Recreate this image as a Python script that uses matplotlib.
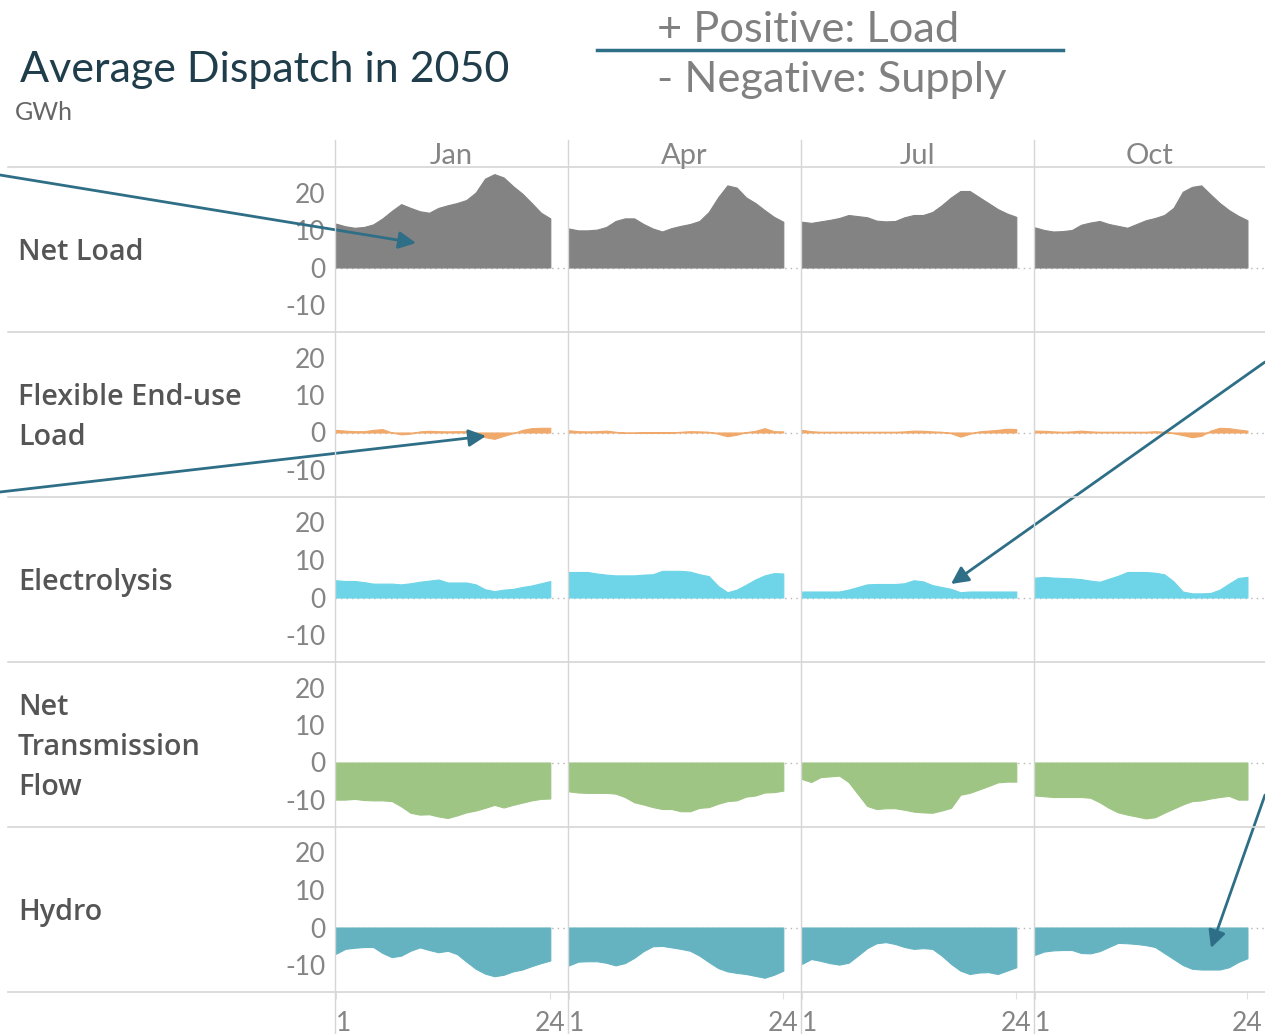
import matplotlib
matplotlib.use('Agg')
import matplotlib.pyplot as plt
from matplotlib.lines import Line2D
from matplotlib.patches import FancyArrowPatch

# ---------------- data ----------------
hours = list(range(1, 25))
months = ['Jan', 'Apr', 'Jul', 'Oct']
row_labels = ['Net Load', 'Flexible End-use\nLoad', 'Electrolysis',
              'Net\nTransmission\nFlow', 'Hydro']
y_ticks = [-10, 0, 10, 20]
x_ticks = [1, 24]
x_tick_labels = ['1', '24']

net_load_jan = [11.7, 11.0, 10.6, 10.8, 11.5, 13.1, 15.1, 16.9, 15.9, 15.0, 14.6, 15.9,
                16.6, 17.2, 18.0, 20.0, 23.7, 24.9, 24.0, 21.7, 19.7, 17.2, 14.6, 13.1]
net_load_apr = [10.4, 9.9, 9.9, 10.1, 10.8, 12.4, 13.1, 13.1, 11.6, 10.4, 9.6, 10.5,
                11.1, 11.6, 12.4, 14.8, 18.7, 21.9, 21.3, 18.7, 17.2, 15.3, 13.5, 12.2]
net_load_jul = [12.2, 11.9, 12.3, 12.7, 13.2, 14.0, 13.7, 13.4, 12.5, 12.3, 12.4, 13.4,
                14.0, 14.0, 14.8, 16.6, 18.7, 20.4, 20.4, 18.8, 17.2, 15.6, 14.4, 13.5]
net_load_oct = [10.7, 10.0, 9.6, 9.7, 10.0, 11.4, 12.0, 12.4, 11.6, 11.1, 10.6, 11.6,
                12.6, 13.2, 14.0, 15.9, 20.2, 21.5, 21.9, 19.5, 17.2, 15.3, 13.8, 12.6]

flex_jan = [0.7, 0.5, 0.35, 0.35, 0.7, 0.9, 0.0, -0.5, -0.3, 0.3, 0.45, 0.35,
            0.3, 0.35, 0.35, -0.35, -1.25, -1.7, -0.9, -0.2, 0.7, 1.15, 1.25, 1.25]
flex_apr = [0.6, 0.35, 0.3, 0.35, 0.5, 0.2, -0.1, -0.1, 0.0, 0.0, 0.0, 0.0,
            0.2, 0.35, 0.3, 0.2, -0.35, -1.0, -0.6, 0.1, 0.45, 1.15, 0.35, 0.3]
flex_jul = [0.7, 0.35, 0.2, 0.2, 0.2, 0.2, 0.2, 0.2, 0.2, 0.2, 0.2, 0.3,
            0.5, 0.45, 0.3, 0.2, -0.2, -1.1, -0.35, 0.3, 0.5, 0.7, 1.0, 0.9]
flex_oct = [0.5, 0.45, 0.3, 0.2, 0.3, 0.5, 0.3, 0.2, 0.2, 0.2, 0.2, 0.2,
            0.2, 0.35, 0.2, -0.2, -0.7, -1.25, -0.9, 0.5, 1.25, 1.15, 0.8, 0.5]

electro_jan = [4.6, 4.4, 4.4, 4.1, 3.7, 3.7, 3.7, 3.5, 3.8, 4.2, 4.5, 4.8,
               4.0, 4.0, 4.0, 3.5, 2.2, 1.7, 2.1, 2.3, 2.8, 3.2, 3.8, 4.4]
electro_apr = [6.8, 6.8, 6.8, 6.4, 6.1, 5.9, 5.9, 5.9, 6.1, 6.2, 7.1, 7.1,
               7.1, 6.9, 6.2, 5.7, 3.1, 1.4, 2.1, 3.4, 4.8, 5.9, 6.5, 6.4]
electro_jul = [1.6, 1.6, 1.6, 1.6, 1.6, 2.1, 2.8, 3.5, 3.6, 3.6, 3.6, 3.8,
               4.6, 4.3, 3.3, 2.8, 2.3, 1.4, 1.6, 1.6, 1.6, 1.6, 1.6, 1.6]
electro_oct = [5.3, 5.5, 5.3, 5.2, 5.1, 4.9, 4.5, 4.2, 5.0, 5.8, 6.8, 6.8,
               6.8, 6.6, 6.2, 4.3, 1.6, 1.1, 1.1, 1.2, 2.1, 3.7, 5.2, 5.5]

trans_jan = [-9.9, -9.9, -9.7, -10.0, -10.1, -10.1, -10.3, -11.7, -13.4, -13.9, -13.8, -14.4,
             -14.8, -14.1, -13.3, -12.8, -12.1, -11.3, -12.0, -11.3, -10.7, -10.1, -9.7, -9.6]
trans_apr = [-7.7, -8.0, -8.1, -8.1, -8.1, -8.3, -9.2, -10.6, -11.2, -11.9, -12.4, -12.4,
             -13.0, -13.0, -12.1, -11.9, -11.0, -10.3, -10.1, -9.1, -8.8, -8.0, -7.9, -7.5]
trans_jul = [-4.4, -5.2, -3.9, -3.7, -3.5, -5.2, -8.4, -11.6, -12.4, -12.2, -12.2, -12.6,
             -13.1, -13.3, -13.4, -12.8, -12.1, -8.6, -8.1, -7.2, -6.3, -5.3, -5.1, -5.1]
trans_oct = [-8.8, -9.0, -9.2, -9.2, -9.2, -9.2, -9.4, -10.6, -12.1, -13.3, -13.9, -14.4,
             -14.9, -14.6, -13.4, -12.3, -11.2, -10.3, -10.1, -9.6, -9.2, -8.9, -9.9, -9.9]

hydro_jan = [-7.0, -5.7, -5.4, -5.2, -5.2, -6.8, -7.9, -7.5, -6.2, -5.3, -6.0, -6.6,
             -6.2, -7.1, -9.1, -11.0, -12.3, -13.0, -12.6, -11.7, -11.2, -10.3, -9.5, -8.8]
hydro_apr = [-10.1, -9.1, -9.0, -9.0, -9.4, -10.1, -9.5, -8.1, -6.3, -5.0, -4.9, -5.3,
             -5.7, -6.2, -7.5, -9.2, -10.8, -11.7, -12.1, -12.4, -12.9, -13.4, -12.6, -11.5]
hydro_jul = [-9.7, -8.4, -8.9, -9.5, -9.9, -9.4, -7.5, -5.5, -4.2, -3.9, -4.4, -5.2,
             -5.7, -5.5, -5.7, -7.5, -9.7, -11.5, -12.4, -12.0, -11.9, -12.4, -11.5, -10.6]
hydro_oct = [-7.3, -6.4, -6.1, -6.0, -6.0, -6.8, -6.9, -6.3, -5.2, -4.1, -4.2, -4.4,
             -4.7, -5.2, -6.8, -8.4, -10.0, -11.0, -11.2, -11.2, -11.2, -10.6, -9.2, -8.2]

series = [
    [net_load_jan, net_load_apr, net_load_jul, net_load_oct],
    [flex_jan, flex_apr, flex_jul, flex_oct],
    [electro_jan, electro_apr, electro_jul, electro_oct],
    [trans_jan, trans_apr, trans_jul, trans_oct],
    [hydro_jan, hydro_apr, hydro_jul, hydro_oct],
]
row_colors = ['#838384', '#F0A96B', '#6DD5E7', '#9FC584', '#65B3C1']

# ---------------- layout (pixels) ----------------
W, H = 1265, 1034
FONT = ['Lato', 'DejaVu Sans']
plt.rcParams['font.family'] = FONT

fig = plt.figure(figsize=(W / 100, H / 100), dpi=100)
fig.patch.set_facecolor('white')

def fx(x):
    return x / W

def fy(y):
    return 1 - y / H

col_x = [335, 568, 801, 1034, 1265]
row_top = 167
row_h = 165
grid_c = '#d6d6d6'
txt_grey = '#858585'
label_c = '#555555'
arrow_c = '#2E6E86'

for r in range(5):
    for c in range(4):
        left = col_x[c]
        w = col_x[c + 1] - left
        top = row_top + r * row_h
        ax = fig.add_axes([fx(left), fy(top + row_h), w / W, row_h / H])
        ax.set_xlim(0.9, 25.9)
        ax.set_ylim(-17.2, 26.8)
        for s in ax.spines.values():
            s.set_visible(False)
        ax.set_facecolor('none')
        ax.axhline(0, color='#b5b5b5', lw=1.0, ls=(0, (1, 3)), zorder=1)
        vals = series[r][c]
        ax.fill_between(hours, 0, vals, color=row_colors[r], lw=0.8,
                        edgecolor=row_colors[r], zorder=2)
        if c == 0:
            ax.set_yticks(y_ticks)
            ax.set_yticklabels([str(v) for v in y_ticks])
            ax.tick_params(axis='y', length=0, pad=7, labelsize=19, labelcolor=txt_grey)
        else:
            ax.set_yticks([])
        if r == 4:
            ax.set_xticks(x_ticks)
            ax.set_xticklabels(x_tick_labels)
            ax.tick_params(axis='x', length=5, color='#e0e0e0', pad=9,
                           labelsize=19, labelcolor=txt_grey)
            tl = ax.get_xticklabels()
            tl[0].set_ha('left')
        else:
            ax.set_xticks([])

# month headers
for c, m in enumerate(months):
    xc = (col_x[c] + col_x[c + 1]) / 2
    fig.text(fx(xc), fy(164), m, fontsize=21, color=txt_grey, ha='center',
             va='baseline')

# grid lines
for x in col_x[:-1]:
    fig.add_artist(Line2D([fx(x), fx(x)], [fy(140), fy(1034)], color=grid_c, lw=1.0,
                          transform=fig.transFigure))
for r in range(6):
    y = row_top + r * row_h
    fig.add_artist(Line2D([fx(8), fx(1265)], [fy(y), fy(y)], color=grid_c, lw=1.2,
                          transform=fig.transFigure))

# row labels
for r, lab in enumerate(row_labels):
    yc = row_top + r * row_h + row_h / 2 + 3
    fig.text(fx(18), fy(yc), lab, ha='left', va='center', fontsize=20.7,
             fontweight='semibold', family=['Open Sans', 'DejaVu Sans'],
             color=label_c, linespacing=1.5)

# titles
fig.text(fx(20), fy(82), 'Average Dispatch in 2050', fontsize=31, color='#1F3D4B',
         ha='left', va='baseline')
fig.text(fx(15), fy(120), 'GWh', fontsize=18, color='#666666', ha='left', va='baseline')
fig.text(fx(657), fy(42), '+ Positive: Load', fontsize=31.2, color='#808080',
         ha='left', va='baseline')
fig.text(fx(657), fy(92), '- Negative: Supply', fontsize=31.2, color='#808080',
         ha='left', va='baseline')
fig.add_artist(Line2D([fx(597), fx(1063)], [fy(50), fy(50)], color=arrow_c, lw=2.5,
                      transform=fig.transFigure))

# arrows
arrows = [((0, 175), (416, 243)), ((0, 492), (486, 436)),
          ((1265, 362), (951, 584)), ((1265, 795), (1211, 948))]
for (x0, y0), (x1, y1) in arrows:
    fig.add_artist(FancyArrowPatch((fx(x0), fy(y0)), (fx(x1), fy(y1)),
                                   transform=fig.transFigure, arrowstyle='-|>',
                                   mutation_scale=26, color=arrow_c, lw=2.0,
                                   shrinkA=0, shrinkB=0))

fig.savefig('out.png', dpi=100, facecolor='white')
